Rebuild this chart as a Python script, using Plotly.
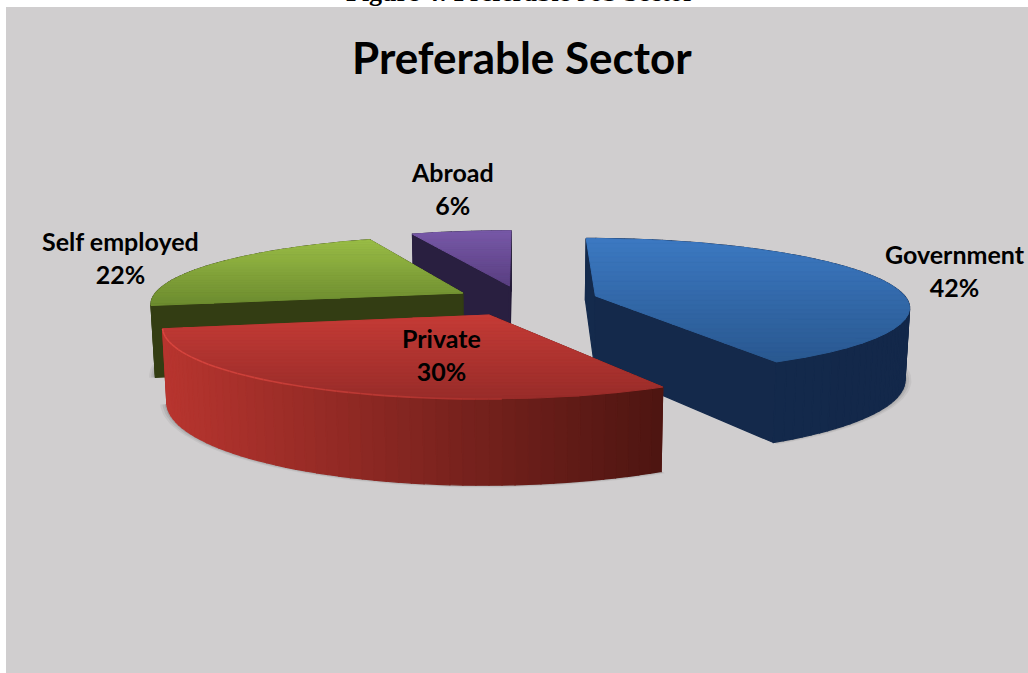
import math
import plotly.graph_objects as go

# ---- data ----
categories = ["Government", "Private", "Self employed", "Abroad"]
values = [42, 30, 22, 6]
chart_title = "Preferable Sector"
caption = "Figure 4: Preferable Job Sector"

# ---- styles ----
top_light = ["#3c79c2", "#c53b36", "#9abd46", "#7859a8"]
top_dark = ["#295890", "#982c29", "#6c8b2f", "#5a3f82"]
wall_left = ["#142a4c", "#b8352f", "#343e14", "#30244a"]
wall_right = ["#13284a", "#4d1511", "#333c13", "#221a36"]
explode = [0.245, 0.24, 0.22, 0.22]
label_xy = {"Government": (955, 270), "Private": (441, 354),
            "Self employed": (120, 257), "Abroad": (452, 188)}
PANEL = "#d0cecf"

# ---- perspective camera of the pie ----
X0, S, K, T, YH, H = 522, 312, 0.145, 462, -162, 71
STEP = 2.0


def proj(gx, gy, depth=0.0):
    w = 1 + K * gy
    return (X0 + S * gx / w * (1 - 0.012 * depth), YH + (T + H * depth) / w)


def clip(poly, y0, y1):
    def half(pts, keep, cross):
        out = []
        for i, p in enumerate(pts):
            q = pts[(i + 1) % len(pts)]
            if keep(p):
                out.append(p)
            if keep(p) != keep(q):
                t = (cross - p[1]) / (q[1] - p[1])
                out.append((p[0] + t * (q[0] - p[0]), cross))
        return out
    res = half(poly, lambda p: p[1] >= y0, y0)
    if res:
        res = half(res, lambda p: p[1] <= y1, y1)
    return res


def rgb(h):
    return [int(h[i:i + 2], 16) for i in (1, 3, 5)]


def mix(a, b, t):
    t = max(0, min(1, t))
    ca, cb = rgb(a), rgb(b)
    return "rgb(%d,%d,%d)" % tuple(round(ca[i] + (cb[i] - ca[i]) * t) for i in range(3))


fig = go.Figure()


def add_poly(pts, color, lw=1.2):
    fig.add_trace(go.Scatter(
        x=[p[0] for p in pts] + [pts[0][0]], y=[p[1] for p in pts] + [pts[0][1]],
        mode="lines", fill="toself", fillcolor=color,
        line=dict(color=color, width=lw), hoverinfo="skip", showlegend=False))


# wedge geometry from the values
total = sum(values)
wedges = []
start = 0.0
for name, v, ex in zip(categories, values, explode):
    sweep = 360.0 * v / total
    wedges.append((name, start, start + sweep, ex))
    start += sweep


def wedge_ground(a0, a1, ex, r=1.0):
    mid = math.radians((a0 + a1) / 2)
    ox, oy = ex * math.sin(mid), ex * math.cos(mid)
    n = max(2, int((a1 - a0) / STEP))
    rim = [(ox + r * math.sin(math.radians(a0 + (a1 - a0) * i / n)),
            oy + r * math.cos(math.radians(a0 + (a1 - a0) * i / n))) for i in range(n + 1)]
    return (ox, oy), rim


# soft ground shadows first
for name, a0, a1, ex in wedges:
    apex, rim = wedge_ground(a0, a1, ex)
    for grow, alpha in ((1.02, .07), (1.013, .10), (1.006, .14)):
        apex2, rim2 = wedge_ground(a0, a1, ex, grow)
        pts = [proj(*apex, 1.0)] + [proj(*p, 1.0) for p in rim2]
        fig.add_trace(go.Scatter(
            x=[p[0] for p in pts] + [pts[0][0]], y=[p[1] for p in pts] + [pts[0][1]],
            mode="lines", fill="toself", fillcolor="rgba(60,60,60,%.2f)" % alpha,
            line=dict(width=0), hoverinfo="skip", showlegend=False))

# back to front: Abroad, Self employed, Government, Private
for idx in (3, 2, 0, 1):
    name, a0, a1, ex = wedges[idx]
    apex, rim = wedge_ground(a0, a1, ex)
    outline = [apex] + rim
    xs = [proj(*p)[0] for p in outline]
    xmin, xmax = min(xs), max(xs)

    walls = []
    ring = outline + [apex]
    for p, q in zip(ring[:-1], ring[1:]):
        walls.append((p, q))
    walls.sort(key=lambda e: -(e[0][1] + e[1][1]))
    for p, q in walls:
        quad = [proj(*p), proj(*q), proj(*q, 1.0), proj(*p, 1.0)]
        t = ((quad[0][0] + quad[1][0]) / 2 - xmin) / max(1, xmax - xmin)
        add_poly(quad, mix(wall_left[idx], wall_right[idx], t))

    top = [proj(*p) for p in outline]
    ys = [p[1] for p in top]
    ymin, ymax = min(ys), max(ys)
    bands = 26
    for b in range(bands):
        y0 = ymin + (ymax - ymin) * b / bands
        y1 = ymin + (ymax - ymin) * (b + 1) / bands
        piece = clip(top, y0, y1)
        if len(piece) >= 3:
            add_poly(piece, mix(top_light[idx], top_dark[idx], (b + .5) / bands), 1.0)

    if name == "Private":
        # bright bevel along the rim of the front slice, fading out to the right
        cut = [proj(*p) for p in rim]
        for a, c in zip(cut[:-1], cut[1:]):
            if c[0] < 500:
                colour = mix("#d9463f", "#a52f2b", (c[0] - 160) / 340)
                fig.add_trace(go.Scatter(x=[a[0], c[0]], y=[a[1], c[1]], mode="lines",
                                         line=dict(color=colour, width=1.6),
                                         hoverinfo="skip", showlegend=False))

# labels
for name, v in zip(categories, values):
    lx, ly = label_xy[name]
    fig.add_annotation(x=lx, y=ly, text="<b>%s</b><br><b>%d%%</b>" % (name, round(100 * v / total)),
                       showarrow=False, align="center", xanchor="center", yanchor="middle",
                       font=dict(family="Lato", size=25, color="#000000"))
fig.add_annotation(x=522, y=57, text="<b>%s</b>" % chart_title, showarrow=False,
                   xanchor="center", yanchor="middle",
                   font=dict(family="Lato", size=44, color="#000000"))
fig.add_annotation(x=520, y=8, text="<b>%s</b>" % caption, showarrow=False,
                   xanchor="center", yanchor="bottom", borderpad=0,
                   font=dict(family="Liberation Serif", size=26, color="#000000"))

fig.update_layout(
    width=1028, height=673, margin=dict(l=0, r=0, t=0, b=0), autosize=False,
    paper_bgcolor="#ffffff", plot_bgcolor="#ffffff", showlegend=False,
    xaxis=dict(range=[0, 1028], visible=False, fixedrange=True),
    yaxis=dict(range=[673, 0], visible=False, fixedrange=True),
    shapes=[dict(type="rect", xref="x", yref="y", x0=6, x1=1028, y0=7, y1=673,
                 fillcolor=PANEL, line=dict(width=0), layer="below")],
)
fig.write_html("out.html", config={"displayModeBar": False},
               post_script="document.body.style.margin='0';document.documentElement.style.overflow='hidden';")
